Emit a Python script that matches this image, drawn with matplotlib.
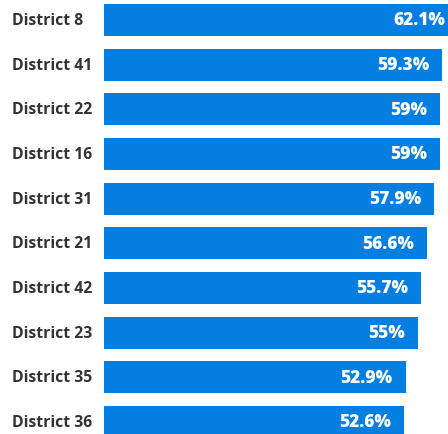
import matplotlib.pyplot as plt

districts = ['District 8', 'District 41', 'District 22', 'District 16', 'District 31',
             'District 21', 'District 42', 'District 23', 'District 35', 'District 36']
values = [62.1, 59.3, 59, 59, 57.9, 56.6, 55.7, 55, 52.9, 52.6]
labels = ['62.1%', '59.3%', '59%', '59%', '57.9%', '56.6%', '55.7%', '55%', '52.9%', '52.6%']


def main():
    fig = plt.figure(figsize=(4.48, 4.35), dpi=100)
    x0 = 104 / 448
    ax = fig.add_axes([x0, 0, 1 - x0, 1])

    ypos = list(range(len(values)))
    ax.barh(ypos, values, height=0.716, color='#047ee0')

    ax.set_xlim(0, 344 / 5.7)
    ax.set_ylim(9.27, -0.47)
    ax.axis('off')

    for y, v, lab, name in zip(ypos, values, labels, districts):
        ax.text(v - 13 / 5.7, y, lab, color='white', ha='right', va='center',
                fontsize=12.5, fontweight='heavy', family='Open Sans')
        fig.text(12 / 448, 1 - (21 + y * 44.67) / 435, name, color='#333333',
                 ha='left', va='center', fontsize=11.3, fontweight='bold', family='Open Sans')

    fig.savefig('out.png', dpi=100)


if __name__ == '__main__':
    main()
